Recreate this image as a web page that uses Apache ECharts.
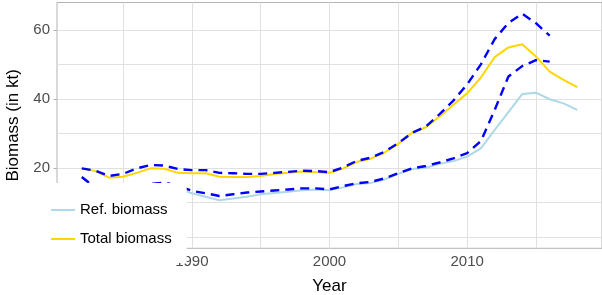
<!DOCTYPE html>
<html>
<head>
<meta charset="utf-8">
<script src="https://cdn.jsdelivr.net/npm/echarts@6/dist/echarts.min.js"></script>
<style>html,body{margin:0;padding:0;background:#fff}#c{width:602px;height:295px}</style>
</head>
<body>
<div id="c"></div>
<script>
const years = [1982,1983,1984,1985,1986,1987,1988,1989,1990,1991,1992,1993,1994,1995,1996,1997,1998,1999,2000,2001,2002,2003,2004,2005,2006,2007,2008,2009,2010,2011,2012,2013,2014,2015,2016,2017,2018];
const refBiomass = [17.3,14.0,13.0,13.3,14.0,14.9,15.1,13.9,12.7,11.7,10.7,11.2,11.7,12.4,12.8,13.1,13.6,13.8,13.6,14.4,15.4,15.7,16.7,18.3,19.7,20.1,21.2,22.0,23.3,25.7,31.0,36.2,41.4,41.8,39.9,38.7,36.8];
const totalBiomass = [19.9,19.1,17.2,17.5,18.6,19.9,19.8,18.6,18.5,18.5,17.5,17.4,17.4,17.7,18.3,18.6,19.0,18.8,18.6,19.9,21.8,22.7,24.5,27.0,30.2,31.8,34.9,38.3,41.6,46.2,52.1,54.9,55.8,52.3,47.9,45.5,43.4];
// previous assessment (dashed), 1982-2016
const prevTotal = [19.9,19.2,17.7,18.3,19.9,20.9,20.7,19.7,19.4,19.4,18.6,18.5,18.3,18.3,18.6,18.9,19.2,19.1,18.8,20.2,22.1,23.0,24.7,27.2,30.2,32.0,35.6,39.5,44.2,50.0,57.3,62.0,64.66,61.9,58.3];
const prevRef = [17.4,14.3,13.6,14.0,14.7,15.4,15.8,14.8,13.4,12.7,11.9,12.4,12.9,13.2,13.5,13.8,14.1,14.1,13.8,14.8,15.6,16.0,17.0,18.5,19.9,20.6,21.6,22.8,24.3,27.8,36.8,46.5,49.5,51.2,50.8];
const xTicks = [1990,2000,2010];
const yTicks = [0,20,40,60];
const xGridLines = [1985,1990,1995,2000,2005,2010,2015];
const yGridLines = [0,10,20,30,40,50,60];

const pair = (vals) => vals.map((v,i) => [years[i], v]);
const FONT = 'Liberation Sans, Arial, sans-serif';

const chart = echarts.init(document.getElementById('c'), null, {renderer:'canvas'});
chart.setOption({
  animation: false,
  grid: {left:57, right:0, top:2.5, bottom:46.7, containLabel:false, outerBoundsMode:'none',
         show:true, borderColor:'#b3b3b3', borderWidth:1, backgroundColor:'#fff'},
  xAxis: {
    type:'value', min:1980.2, max:2019.8,
    name:'Year', nameLocation:'middle', nameGap:30,
    nameTextStyle:{color:'#000', fontSize:17, fontFamily:FONT},
    axisLine:{show:false},
    axisTick:{show:true, length:3.5, lineStyle:{color:'#b3b3b3'}, customValues:xTicks},
    axisLabel:{color:'#4d4d4d', fontSize:15, fontFamily:FONT, margin:6, customValues:xTicks, formatter:v=>String(v)},
    splitLine:{show:false}
  },
  yAxis: {
    type:'value', min:-3.23, max:67.9,
    name:'Biomass (in kt)', nameLocation:'middle', nameGap:35,
    nameTextStyle:{color:'#000', fontSize:17, fontFamily:FONT},
    axisLine:{show:false},
    axisTick:{show:true, length:3.5, lineStyle:{color:'#b3b3b3'}, customValues:yTicks},
    axisLabel:{color:'#4d4d4d', fontSize:15, fontFamily:FONT, margin:7, customValues:yTicks, formatter:v=>String(v)},
    splitLine:{show:false}
  },
  legend: {
    data:['Ref. biomass','Total biomass'],
    orient:'vertical', left:42, top:183,
    backgroundColor:'#fff',
    padding:[18,15,15,9],
    itemGap:11, itemWidth:24, itemHeight:2, icon:'rect',
    textStyle:{color:'#000', fontSize:15, fontFamily:FONT, lineHeight:18}
  },
  series: [
    {name:'grid', type:'line', data:[], z:1, silent:true,
     markLine:{silent:true, symbol:'none', z:1, label:{show:false},
       lineStyle:{color:'#e0e0e0', width:1, type:'solid'},
       data: xGridLines.map(v=>({xAxis:v})).concat(yGridLines.map(v=>({yAxis:v})))}},
    {name:'Ref. biomass', type:'line', data:pair(refBiomass), showSymbol:false, symbol:'none', color:'#add8e6', lineStyle:{width:2, color:'#add8e6'}},
    {name:'Total biomass', type:'line', data:pair(totalBiomass), showSymbol:false, symbol:'none', color:'#ffd700', lineStyle:{width:2, color:'#ffd700'}},
    {name:'Prev. ref. biomass', type:'line', data:pair(prevRef), showSymbol:false, symbol:'none', color:'#0000ff', lineStyle:{width:2.4, color:'#0000ff', type:[9,6]}},
    {name:'Prev. total biomass', type:'line', data:pair(prevTotal), showSymbol:false, symbol:'none', color:'#0000ff', lineStyle:{width:2.4, color:'#0000ff', type:[9,6]}}
  ]
});
</script>
</body>
</html>
